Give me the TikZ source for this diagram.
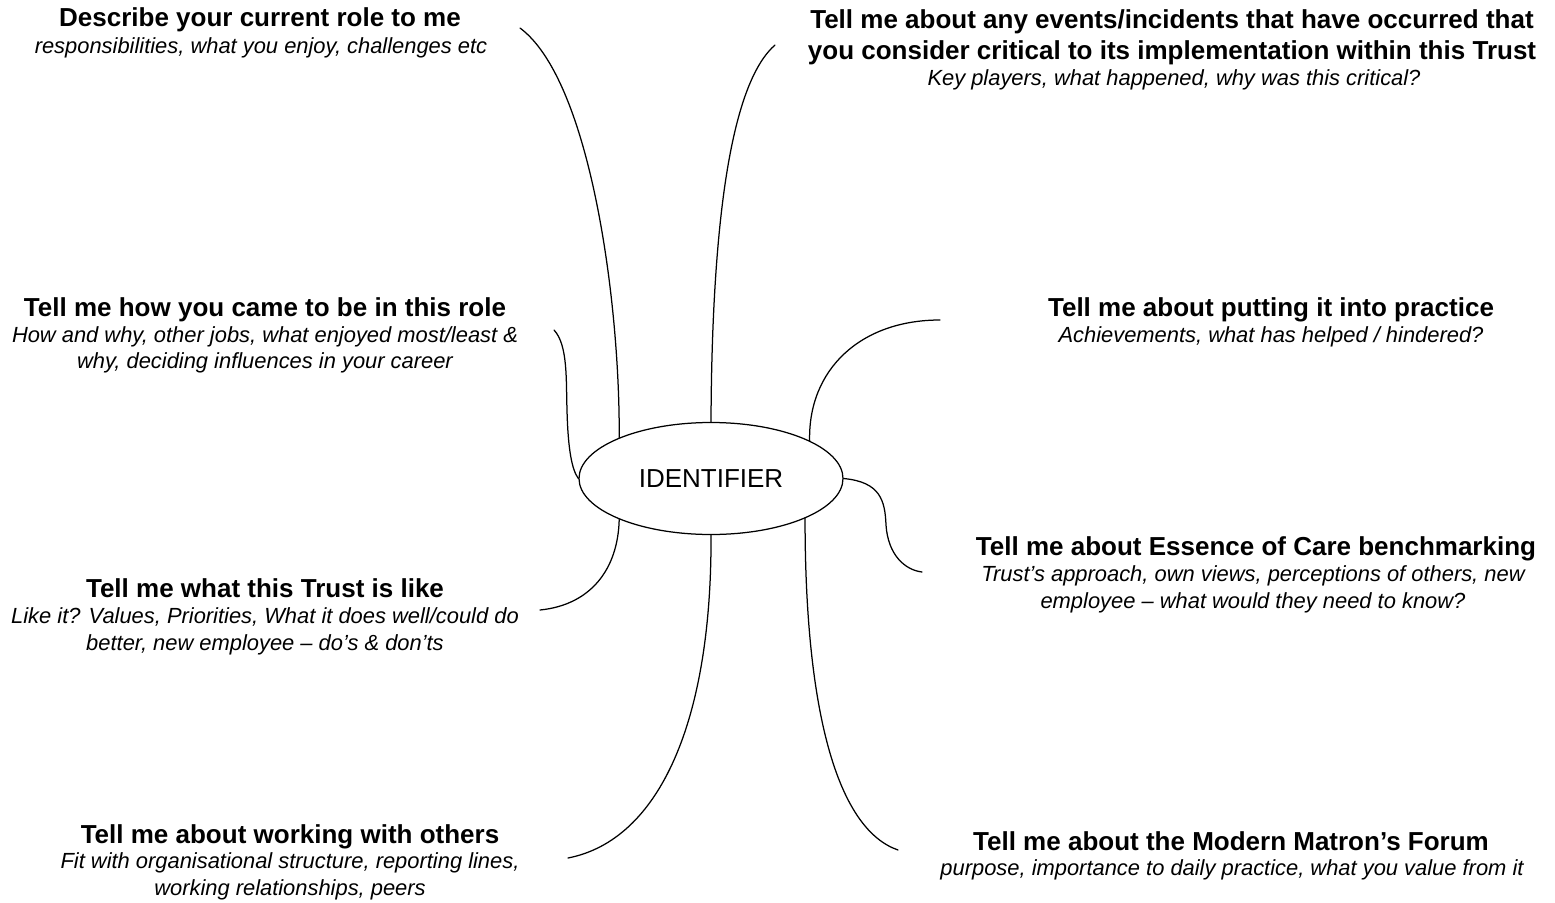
\documentclass[tikz,border=0pt]{standalone}
\usepackage{fontspec}
\setmainfont{Liberation Sans}
\usetikzlibrary{shapes.geometric}
\begin{document}
\begin{tikzpicture}[x=1pt,y=-1pt,
  hub/.style={draw,line width=1.25pt,ellipse,minimum width=264pt,minimum height=112pt,inner sep=0pt,
    font=\fontsize{26}{31}\selectfont},
  head/.style={anchor=base,inner sep=0pt,font=\fontsize{26}{31}\selectfont\bfseries},
  sub/.style={anchor=base,inner sep=0pt,font=\fontsize{21.9}{26.5}\selectfont\itshape},
  branch/.style={line width=1.25pt,line cap=round}]
\useasboundingbox (0,0) rectangle (1555,902);

% central node
\node[hub] (id) at (711,478.5) {\raisebox{-2pt}{IDENTIFIER}};

% topics
\node[head] (t1) at (260,27) {Describe your current role to me};
\node[sub]  (s1) at (261,53) {responsibilities, what you enjoy, challenges etc};

\node[head] (t2a) at (1172,28) {Tell me about any events/incidents that have occurred that};
\node[head] (t2b) at (1172,59) {you consider critical to its implementation within this Trust};
\node[sub]  (s2)  at (1174,85) {Key players, what happened, why was this critical?};

\node[head] (t3)  at (265,316) {Tell me how you came to be in this role};
\node[sub]  (s3a) at (265,342) {How and why, other jobs, what enjoyed most/least \&};
\node[sub]  (s3b) at (265,368) {why, deciding influences in your career};

\node[head] (t4)  at (1271,316) {Tell me about putting it into practice};
\node[sub]  (s4)  at (1271,342) {Achievements, what has helped / hindered?};

\node[head] (t5)  at (1256,555) {Tell me about Essence of Care benchmarking};
\node[sub]  (s5a) at (1253,581) {Trust’s approach, own views, perceptions of others, new};
\node[sub]  (s5b) at (1253,608) {employee – what would they need to know?};

\node[head] (t6)  at (265,597) {Tell me what this Trust is like};
\node[sub]  (s6a) at (265,623) {Like it? Values, Priorities, What it does well/could do};
\node[sub]  (s6b) at (265,650) {better, new employee – do’s \& don’ts};

\node[head] (t7)  at (290,843) {Tell me about working with others};
\node[sub]  (s7a) at (290,868) {Fit with organisational structure, reporting lines,};
\node[sub]  (s7b) at (290,895) {working relationships, peers};

\node[head] (t8)  at (1231,850) {Tell me about the Modern Matron’s Forum};
\node[sub]  (s8)  at (1232,875) {purpose, importance to daily practice, what you value from it};

% free ends of the branches
\coordinate (e1) at (520,28);
\coordinate (e2) at (775,45);
\coordinate (e3) at (554,330);
\coordinate (e4) at (940,320);
\coordinate (e5) at (922,572);
\coordinate (e6) at (540,610);
\coordinate (e7) at (568,858);
\coordinate (e8) at (898,850);

% branches
\draw[branch] (id.156.5) .. controls (620,300) and (590,80) .. (e1);
\draw[branch] (id.90) .. controls (712,200) and (735,80) .. (e2);
\draw[branch] (id.180) .. controls (572,470) and (568,450) .. (567,410)
                      .. controls (566,380) and (568,345) .. (e3);
\draw[branch] (id.21.2) .. controls (808,370) and (860,320) .. (e4);
\draw[branch] (id.0) .. controls (880,482) and (885,500) .. (886,525)
                    .. controls (888,555) and (905,570) .. (e5);
\draw[branch] (id.204.3) .. controls (618,570) and (590,605) .. (e6);
\draw[branch] (id.270) .. controls (712,720) and (660,840) .. (e7);
\draw[branch] (id.337.5) .. controls (805,720) and (840,830) .. (e8);
\end{tikzpicture}
\end{document}
